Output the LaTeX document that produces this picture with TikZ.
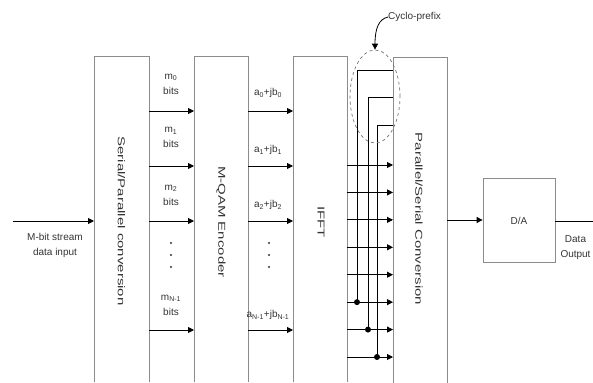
\documentclass[tikz,border=0pt]{standalone}
\usepackage{fontspec}
\setmainfont{Liberation Sans}
\usetikzlibrary{arrows.meta,shapes.geometric}
\begin{document}
\begin{tikzpicture}[x=1pt,y=-1pt,
  every node/.style={font=\fontsize{10}{15}\selectfont, text=black!80, inner sep=0pt},
  boxnode/.style={draw=none, anchor=north west, minimum height=326pt},
  boxline/.style={draw=black!45, line width=0.8pt},
  arr/.style={draw=black, line width=0.9pt, -{Triangle[length=6pt,width=6pt]}},
  plain/.style={draw=black, line width=0.9pt},
  vlabel/.style={rotate=-90},
  bigdot/.style={circle, fill=black, minimum size=6pt, inner sep=0pt},
  smalldot/.style={circle, fill=black!80, minimum size=2.4pt, inner sep=0pt}]
\useasboundingbox (0,0) rectangle (593,382);

% boxes (open at the bottom edge)
\node[boxnode, minimum width=55pt] (sp) at (94,56) {};
\node[boxnode, minimum width=54pt] (qam) at (194,56) {};
\node[boxnode, minimum width=54pt] (ifft) at (293,56) {};
\node[boxnode, minimum width=54pt] (ps) at (393,57) {};
\foreach \b in {sp,qam,ifft,ps}
  \draw[boxline] (\b.south west) -- (\b.north west) -- (\b.north east) -- (\b.south east);
\node[draw=black!45, line width=0.8pt, minimum width=72pt, minimum height=84pt] (da) at (519,220) {};

% box labels
\node[vlabel] (splab) at (121.5,221) {\scalebox{1.5}[1]{Serial/Parallel conversion}};
\node[vlabel] (qamlab) at (221,222) {\scalebox{1.5}[1]{M-QAM Encoder}};
\node[vlabel] (ifftlab) at (321,222) {\scalebox{1.5}[1]{IFFT}};
\node[vlabel] (pslab) at (419,219) {\scalebox{1.5}[1]{Parallel/Serial Conversion}};
\node (dalab) at (519,221) {D/A};

% input
\coordinate (in) at (13,221);
\draw[arr] (in) -- (sp.west |- in);
\node[align=center] (inlab) at (55,245.5) {M-bit stream\\data input};

% rows between S/P, QAM and IFFT
\foreach \n/\y in {0/111,1/166,2/221,3/330}{
  \coordinate (r\n) at (0,\y);
  \draw[arr] (sp.east |- r\n) -- (qam.west |- r\n);
  \draw[arr] (qam.east |- r\n) -- (ifft.west |- r\n);
}
\node[align=center] (m0) at (171,84) {m\textsubscript{0}\\bits};
\node[align=center] (m1) at (171,137.5) {m\textsubscript{1}\\bits};
\node[align=center] (m2) at (171,195) {m\textsubscript{2}\\bits};
\node[align=center] (mn) at (171,305) {m\textsubscript{N-1}\\bits};
\node (a0) at (268,93) {a\textsubscript{0}+jb\textsubscript{0}};
\node (a1) at (268,150) {a\textsubscript{1}+jb\textsubscript{1}};
\node (a2) at (268,205) {a\textsubscript{2}+jb\textsubscript{2}};
\node (an) at (268,315) {a\textsubscript{N-1}+jb\textsubscript{N-1}};
\foreach \y [count=\i] in {243,255,267}{
  \node[smalldot] (md\i) at (171,\y) {};
  \node[smalldot] (ad\i) at (269,\y) {};
}

% IFFT -> P/S rows
\foreach \i in {1,...,8}{
  \coordinate (q\i) at (0,{165+(\i-1)*27.43});
  \draw[arr] (ifft.east |- q\i) -- (ps.west |- q\i);
}

% cyclic prefix lines
\coordinate (c1) at (357,70);
\coordinate (c2) at (368,97);
\coordinate (c3) at (377,125);
\draw[plain] (ps.west |- c1) -- (c1) -- (c1 |- q6);
\draw[plain] (ps.west |- c2) -- (c2) -- (c2 |- q7);
\draw[plain] (ps.west |- c3) -- (c3) -- (c3 |- q8);
\node[bigdot] (d1) at (c1 |- q6) {};
\node[bigdot] (d2) at (c2 |- q7) {};
\node[bigdot] (d3) at (c3 |- q8) {};

\node[ellipse, draw=black!55, dashed, line width=0.7pt, minimum width=50pt, minimum height=93pt] (cpe) at (375,96.5) {};
\node[anchor=west] (cptxt) at (388,17) {Cyclo-prefix};
\draw[draw=black, line width=0.8pt, -{Triangle[length=6pt,width=6pt]}] (cptxt.west) .. controls (379,19) and (375,28) .. (cpe.north);

% P/S -> D/A -> output
\draw[arr] (ps.east |- da.west) -- (da.west);
\coordinate (out) at (593,221);
\draw[plain] (da.east |- out) -- (out);
\node[align=center] (outlab) at (575.5,247.5) {Data\\Output};
\end{tikzpicture}
\end{document}
